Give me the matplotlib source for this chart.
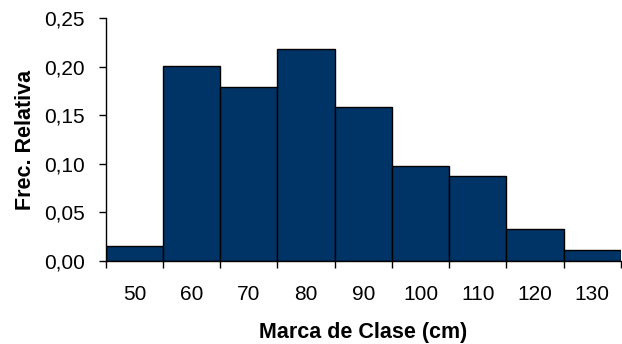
import matplotlib
matplotlib.use("Agg")
import matplotlib.pyplot as plt
import numpy as np

plt.rcParams['font.family'] = ['Liberation Sans', 'DejaVu Sans']

categories = ["50", "60", "70", "80", "90", "100", "110", "120", "130"]
frec_relativa = [0.016, 0.201, 0.179, 0.218, 0.158, 0.098, 0.087, 0.033, 0.011]
yticks = [0.00, 0.05, 0.10, 0.15, 0.20, 0.25]
ytick_labels = ["0,00", "0,05", "0,10", "0,15", "0,20", "0,25"]

fig = plt.figure(figsize=(6.22, 3.44), dpi=100)
ax = fig.add_axes([0.170, 0.241, 0.828, 0.707])

x = np.arange(len(categories))
ax.bar(x, frec_relativa, width=1.0, color="#003366", edgecolor="black", linewidth=1.0, zorder=2)

ax.set_xlim(-0.5, len(categories) - 0.5)
ax.set_ylim(0, 0.25)
ax.set_yticks(yticks)
ax.set_yticklabels(ytick_labels, fontsize=15)
ax.set_xticks(x)
ax.set_xticklabels(categories, fontsize=15)
ax.set_xticks(np.arange(len(categories) + 1) - 0.5, minor=True)
ax.tick_params(axis='x', which='major', length=0, pad=17)
ax.tick_params(axis='x', which='minor', length=5, width=1, direction='out')
ax.tick_params(axis='y', length=5, width=1, direction='out', pad=10)

for s in ['top', 'right']:
    ax.spines[s].set_visible(False)
ax.spines['left'].set_linewidth(1.0)
ax.spines['bottom'].set_linewidth(1.0)

ax.set_xlabel("Marca de Clase (cm)", fontsize=15.5, fontweight='bold', labelpad=13)
ax.set_ylabel("Frec. Relativa", fontsize=15.5, fontweight='bold', labelpad=6)

fig.savefig("out.png", dpi=100)
